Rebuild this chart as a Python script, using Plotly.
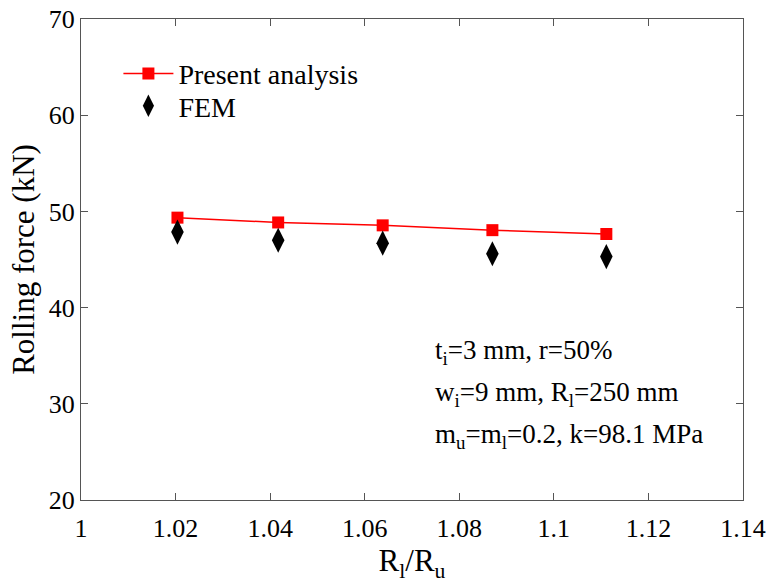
import plotly.graph_objects as go

# R_l / R_u ratios
ratio = [1.0204, 1.0417, 1.0638, 1.0870, 1.1111]
present = [49.35, 48.85, 48.55, 48.05, 47.65]
fem = [47.85, 47.0, 46.7, 45.6, 45.3]

x_ticks = [1, 1.02, 1.04, 1.06, 1.08, 1.1, 1.12, 1.14]
x_labels = ['1', '1.02', '1.04', '1.06', '1.08', '1.1', '1.12', '1.14']
y_ticks = [20, 30, 40, 50, 60, 70]

notes = [
    't<sub>i</sub>=3 mm, r=50%',
    'w<sub>i</sub>=9 mm, R<sub>l</sub>=250 mm',
    'm<sub>u</sub>=m<sub>l</sub>=0.2, k=98.1 MPa',
]

FONT = 'Liberation Serif, Times New Roman, serif'

fig = go.Figure()
fig.add_trace(go.Scatter(
    x=ratio, y=present, mode='lines+markers', name='Present analysis',
    line=dict(color='#ff0000', width=1.5),
    marker=dict(symbol='square', size=12, color='#ff0000'),
    legend='legend',
))
fig.add_trace(go.Scatter(
    x=ratio, y=fem, mode='markers', name='FEM',
    marker=dict(symbol='diamond-tall', size=18, color='black'),
    legend='legend2',
))

for i, t in enumerate(notes):
    fig.add_annotation(
        x=0.532, y=0.308 - i * 0.0873, xref='paper', yref='paper',
        xanchor='left', yanchor='middle', text=t, showarrow=False,
        font=dict(family=FONT, size=27, color='black'),
    )

axis_common = dict(
    showline=True, linecolor='#555555', linewidth=1, mirror='ticks',
    ticks='inside', ticklen=7, tickcolor='#555555', showgrid=False,
    zeroline=False, automargin=False, ticklabeloverflow='allow',
    tickfont=dict(family=FONT, size=26, color='black'),
)
fig.update_xaxes(
    range=[1, 1.14], tickvals=x_ticks, ticktext=x_labels,
    ticklabelstandoff=5,
    title=dict(text='R<sub>l</sub>/R<sub>u</sub>', font=dict(family=FONT, size=31, color='black'), standoff=5),
    **axis_common,
)
fig.update_yaxes(
    range=[20, 70], tickvals=y_ticks,
    title=dict(text='Rolling force (kN)', font=dict(family=FONT, size=31, color='black'), standoff=4),
    **axis_common,
)

leg_style = dict(
    xanchor='left', yanchor='middle', bgcolor='rgba(0,0,0,0)',
    font=dict(family=FONT, size=28, color='black'), itemwidth=50,
)
fig.update_layout(
    width=767, height=588,
    margin=dict(l=81, r=24, t=19, b=88),
    plot_bgcolor='white', paper_bgcolor='white',
    showlegend=True,
    legend=dict(x=0.0565, y=0.886, **leg_style),
    legend2=dict(x=0.0565, y=0.819, **leg_style),
)
# drop the browser's default body margin so the figure fills the window
fig.write_html('out.html', config={'displayModeBar': False},
               post_script="document.body.style.margin='0';")
